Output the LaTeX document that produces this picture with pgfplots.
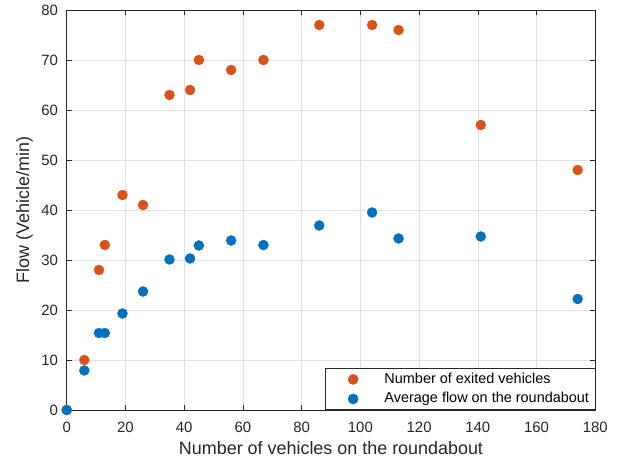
\documentclass[border=0pt]{standalone}
\usepackage{fontspec}
\setmainfont{Liberation Sans}
\usepackage{pgfplots}
\pgfplotsset{compat=1.18}
\definecolor{morange}{rgb}{0.85,0.325,0.098}
\definecolor{mblue}{rgb}{0,0.447,0.741}
\definecolor{axgray}{rgb}{0.15,0.15,0.15}
\pgfplotsset{mylegimg/.style={legend image code/.code={\draw[#1] plot[only marks] coordinates {(28bp,0bp)}; \path (0bp,0bp) (53bp,0bp);}}}
\begin{document}
\begin{tikzpicture}[x=1bp,y=1bp]
\path[use as bounding box] (0,0) rectangle (623,462);
\begin{axis}[
  at={(66.7bp,52bp)}, anchor=south west,
  scale only axis, width=528.6bp, height=400bp,
  xmin=0, xmax=180, ymin=0, ymax=80,
  xtick={0,20,...,180}, ytick={0,10,...,80},
  grid=major, grid style={black!12, line width=0.6bp},
  axis line style={axgray, line width=0.6bp},
  tick style={axgray, line width=0.6bp},
  tick align=inside, major tick length=5bp,
  xtick pos=both, ytick pos=both,
  xticklabel pos=lower, yticklabel pos=left,
  /pgf/number format/assume math mode=true,
  tick label style={font=\fontsize{15}{18}\selectfont, text=axgray, inner sep=0pt},
  xticklabel style={anchor=base, yshift=-23bp},
  yticklabel style={anchor=east, xshift=-8.5bp},
  xlabel={Number of vehicles on the roundabout},
  ylabel={Flow (Vehicle/min)},
  label style={font=\fontsize{18}{21}\selectfont, text=axgray},
  xlabel style={at={(axis description cs:0.5,-0.1125)}, anchor=base},
  ylabel style={at={(axis description cs:-0.08,0.5)}, anchor=center},
  clip=false,
  legend cell align=left,
  legend style={at={(1,0)}, anchor=south east, font=\fontsize{14.5}{17}\selectfont,
    draw=axgray, line width=0.6bp, inner xsep=0bp, inner ysep=2bp, row sep=2bp,
    column sep=0bp,
    nodes={inner xsep=6bp, inner ysep=2bp, text height=10.5bp, text depth=3bp}},
]
\addplot[only marks, mark=*, mark size=5bp, color=morange, mark options={draw=morange, fill=morange}, mylegimg] coordinates {
(0,0) (6,10) (11,28) (13,33) (19,43) (26,41) (35,63) (42,64) (45,70) (56,68) (67,70) (86,77) (104,77) (113,76) (141,57) (174,48)};
\addlegendentry{Number of exited vehicles}
\addplot[only marks, mark=*, mark size=5bp, color=mblue, mark options={draw=mblue, fill=mblue}, mylegimg] coordinates {
(0,0) (6,7.9) (11,15.4) (13,15.4) (19,19.3) (26,23.7) (35,30.1) (42,30.3) (45,32.9) (56,33.9) (67,33) (86,36.9) (104,39.5) (113,34.3) (141,34.7) (174,22.2)};
\addlegendentry{Average flow on the roundabout}
\end{axis}
\end{tikzpicture}
\end{document}
